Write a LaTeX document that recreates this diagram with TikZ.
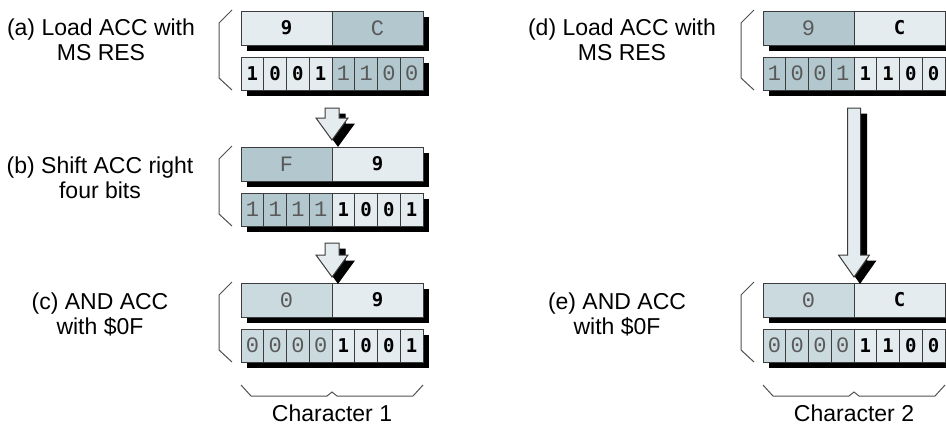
\documentclass[tikz,border=0pt]{standalone}
\usepackage{fontspec}
\setmainfont{Liberation Sans}
\newfontfamily\thinmono{Liberation Mono}
\newfontfamily\boldmono{DejaVu Sans Mono}
\usepackage{tikz}
\usetikzlibrary{positioning,calc,shadows}
\definecolor{clight}{HTML}{E4ECF0}
\definecolor{cdark}{HTML}{B3C7CE}
\definecolor{cmed}{HTML}{CBDADF}
\definecolor{cline}{HTML}{3C3C3C}
\definecolor{cbrk}{HTML}{505050}

\newcommand{\register}[8]{%
  \node[nib,#3,anchor=north west] (#1-hi) at #2 {#4};
  \node[nib,#5,right=0pt of #1-hi] (#1-lo) {#6};
  \foreach \b [count=\i] in {#7} {\node[bit,#3,anchor=north west] (#1-b\i) at ([xshift=\i*11.375pt-11.375pt,yshift=-23pt]#1-hi.north west) {\b};}
  \foreach \b [count=\i from 5] in {#8} {\node[bit,#5,anchor=north west] (#1-b\i) at ([xshift=\i*11.375pt-11.375pt,yshift=-23pt]#1-hi.north west) {\b};}
  \draw[brk] ([xshift=-4.5pt,yshift=0.5pt]#1-hi.north west) -- ++(-6.5pt,-6.5pt)
    -- ([xshift=-11pt,yshift=6pt]#1-b1.south west) -- ([xshift=-4.5pt]#1-b1.south west);
}
\newcommand{\blockarrow}[5]{%
  \foreach \s/\st in {3pt/arsh,0pt/arw}{
    \path[\st] let \p1=(#1), \p2=(#2) in
      (\x1-#3+\s,\y1-\s) -- (\x1+#3+\s,\y1-\s) -- (\x1+#3+\s,\y2+#5-\s)
      -- (\x1+#4+\s,\y2+#5-\s) -- (\x1+\s,\y2-\s) -- (\x1-#4+\s,\y2+#5-\s)
      -- (\x1-#3+\s,\y2+#5-\s) -- cycle;
  }
}

\begin{document}
\begin{tikzpicture}[x=0.5pt, y=-0.5pt,
  nib/.style={draw=cline, line width=0.5pt, minimum width=45.5pt, minimum height=17pt, inner sep=0pt, outer sep=0pt,
    drop shadow={shadow xshift=3pt, shadow yshift=-3pt, fill=black, opacity=1}},
  bit/.style={nib, minimum width=11.375pt, minimum height=16.5pt},
  lit/.style={fill=clight, text=black, font=\boldmono\bfseries\fontsize{9.5}{10}\selectfont},
  drk/.style={fill=cdark, text=black!65, font=\thinmono\fontsize{11}{12}\selectfont},
  mid/.style={fill=cmed, text=black!65, font=\thinmono\fontsize{11}{12}\selectfont},
  brk/.style={draw=cbrk, line width=0.5pt},
  arw/.style={fill=clight, draw=cline, line width=0.5pt},
  arsh/.style={fill=black, draw=black, line width=0.5pt},
  lbl/.style={align=center, inner sep=0pt, font=\fontsize{11.5}{12.5}\selectfont}]
\useasboundingbox (0,0) rectangle (946,424);

\register{a}{(241,11)}{lit}{9}{drk}{C}{1,0,0,1}{1,1,0,0}
\register{b}{(241,147)}{drk}{F}{lit}{9}{1,1,1,1}{1,0,0,1}
\register{c}{(241,283)}{mid}{0}{lit}{9}{0,0,0,0}{1,0,0,1}
\register{d}{(763,11)}{drk}{9}{lit}{C}{1,0,0,1}{1,1,0,0}
\register{e}{(763,283)}{mid}{0}{lit}{C}{0,0,0,0}{1,1,0,0}

\node[lbl] (la) at (101,39.5) {(a) Load ACC with\\MS RES};
\node[lbl] (lb) at (100,177.5) {(b) Shift ACC right\\four bits};
\node[lbl] (lc) at (100,314) {(c) AND ACC\\with \$0F};
\node[lbl] (ld) at (622,39.5) {(d) Load ACC with\\MS RES};
\node[lbl] (le) at (617,314) {(e) AND ACC\\with \$0F};

\coordinate (t1) at ([yshift=-9pt]a-b4.south east);
\coordinate (h1) at ([yshift=3.5pt]b-hi.north east);
\coordinate (t2) at ([yshift=-8.5pt]b-b4.south east);
\coordinate (h2) at ([yshift=3pt]c-hi.north east);
\coordinate (t3) at ([yshift=-9pt]d-b4.south east);
\coordinate (h3) at ([yshift=3pt]e-hi.north east);
\blockarrow{t1}{h1}{3.5pt}{8pt}{11pt}
\blockarrow{t2}{h2}{3.5pt}{8pt}{11pt}
\blockarrow{t3}{h3}{3.25pt}{7.75pt}{11pt}

\foreach \r/\t in {c/Character 1, e/Character 2}{
  \draw[brk] ([yshift=-11.5pt]\r-b1.south west) -- ++(5pt,-5.5pt)
    -- ($(\r-b4.south east)+(-2.5pt,-17pt)$) -- ++(2.5pt,2pt) -- ++(2.5pt,-2pt)
    -- ($(\r-b8.south east)+(-5pt,-17pt)$) -- ([yshift=-11.5pt]\r-b8.south east);
  \node[lbl] (ch-\r) at ([yshift=-25.5pt]\r-b4.south east) {\t};
}
\end{tikzpicture}
\end{document}
